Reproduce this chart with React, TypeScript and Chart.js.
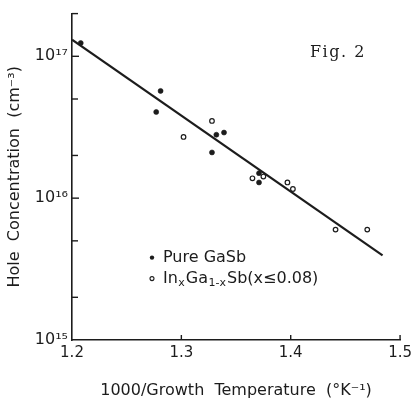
import React, { useEffect, useRef } from "react";
import { Chart, registerables } from "chart.js";

Chart.register(...registerables);

// ---- data ----
const pureX = [1.208, 1.281, 1.277, 1.332, 1.339, 1.328, 1.371, 1.371];
const pureY = [1.24e17, 5.7e16, 4.05e16, 2.8e16, 2.9e16, 2.1e16, 1.5e16, 1.29e16];

const inX = [1.302, 1.328, 1.365, 1.375, 1.397, 1.402, 1.441, 1.47];
const inY = [2.7e16, 3.5e16, 1.38e16, 1.42e16, 1.29e16, 1.16e16, 6.0e15, 6.0e15];

const fitX = [1.2, 1.484];
const fitY = [1.31e17, 3.95e15];

const xTickValues = [1.2, 1.3, 1.4, 1.5];
const xTickLabels = ["1.2", "1.3", "1.4", "1.5"];
const xInnerTicks = [1.3, 1.4, 1.5];

const yTickValues = [1e15, 1e16, 1e17];
const yTickLabels = ["10¹⁵", "10¹⁶", "10¹⁷"];
const yMinorValues = [2e15, 5e15, 2e16, 5e16, 2e17];

const seriesLabels = ["Pure GaSb", "InxGa1-xSb(x≤0.08)"];
// rich text of the second legend entry: [text, isSubscript]
const legendInParts: [string, boolean][] = [
  ["In", false],
  ["x", true],
  ["Ga", false],
  ["1-x", true],
  ["Sb(x≤0.08)", false],
];

const xTitle = "1000/Growth  Temperature  (°K⁻¹)";
const yTitle = "Hole  Concentration  (cm⁻³)";
const figLabel = "Fig. 2";

const INK = "#1c1c1c";
const FONT = "'DejaVu Sans', sans-serif";

const decorPlugin = {
  id: "decor",
  afterDraw(chart: any) {
    const ctx: CanvasRenderingContext2D = chart.ctx;
    const xs = chart.scales.x;
    const ys = chart.scales.y;
    const area = chart.chartArea;
    ctx.save();
    ctx.strokeStyle = INK;
    ctx.lineWidth = 1.4;
    const seg = (x1: number, y1: number, x2: number, y2: number) => {
      ctx.beginPath();
      ctx.moveTo(x1, y1);
      ctx.lineTo(x2, y2);
      ctx.stroke();
    };
    // inward ticks on y axis
    for (const v of yTickValues) {
      if (v <= ys.min) continue;
      const p = ys.getPixelForValue(v);
      seg(area.left, p, area.left + 7, p);
    }
    for (const v of yMinorValues) {
      const p = ys.getPixelForValue(v);
      seg(area.left, p, area.left + 6, p);
    }
    // inward ticks on x axis
    for (const v of xInnerTicks) {
      const p = xs.getPixelForValue(v);
      seg(p, area.bottom, p, area.bottom - 5);
    }

    // legend
    const lx = area.left + 80;
    const ty = area.top + 244;
    const ty2 = area.top + 265;
    const textX = area.left + 91;
    ctx.fillStyle = INK;
    ctx.beginPath();
    ctx.arc(lx, ty, 2.2, 0, Math.PI * 2);
    ctx.fill();
    ctx.beginPath();
    ctx.lineWidth = 1.1;
    ctx.arc(lx, ty2, 2.0, 0, Math.PI * 2);
    ctx.stroke();

    ctx.textBaseline = "middle";
    ctx.textAlign = "left";
    ctx.font = `16px ${FONT}`;
    ctx.fillText(seriesLabels[0], textX, ty);

    let cx = textX;
    for (const [t, sub] of legendInParts) {
      ctx.font = sub ? `11px ${FONT}` : `16px ${FONT}`;
      ctx.fillText(t, cx, sub ? ty2 + 5 : ty2);
      cx += ctx.measureText(t).width + (sub ? 1 : 0.5);
    }

    // figure label
    ctx.font = `16px 'DejaVu Serif', serif`;
    (ctx as any).letterSpacing = "1.5px";
    ctx.fillText(figLabel, area.left + 238, area.top + 39);
    ctx.restore();
  },
};

export default function App() {
  const ref = useRef<HTMLCanvasElement | null>(null);

  useEffect(() => {
    if (!ref.current) return;
    const chart = new Chart(ref.current, {
      type: "scatter",
      data: {
        datasets: [
          {
            label: "fit",
            data: fitX.map((x, i) => ({ x, y: fitY[i] })),
            showLine: true,
            borderColor: INK,
            borderWidth: 2.2,
            pointRadius: 0,
            order: 3,
          },
          {
            label: seriesLabels[0],
            data: pureX.map((x, i) => ({ x, y: pureY[i] })),
            pointRadius: 2.5,
            pointBackgroundColor: INK,
            pointBorderColor: INK,
            pointBorderWidth: 0.6,
            order: 1,
          },
          {
            label: seriesLabels[1],
            data: inX.map((x, i) => ({ x, y: inY[i] })),
            pointRadius: 2.3,
            pointBackgroundColor: "#ffffff",
            pointBorderColor: INK,
            pointBorderWidth: 1.2,
            order: 2,
          },
        ],
      },
      options: {
        responsive: false,
        animation: false,
        devicePixelRatio: 1,
        events: [],
        layout: { padding: { top: 13, right: 13, left: 0, bottom: 0 } },
        plugins: {
          legend: { display: false },
          tooltip: { enabled: false },
        },
        scales: {
          x: {
            type: "linear",
            min: 1.2,
            max: 1.5,
            afterBuildTicks: (s: any) => {
              s.ticks = xTickValues.map((v) => ({ value: v }));
            },
            afterFit: (s: any) => {
              s.height = 60;
            },
            grid: { display: true, drawOnChartArea: false, drawTicks: false },
            border: { display: true, color: INK, width: 1.6 },
            ticks: {
              padding: 4,
              color: INK,
              font: { family: FONT, size: 15 },
              maxRotation: 0,
              autoSkip: false,
              callback: (_v: any, i: number) => xTickLabels[i],
            },
            title: {
              display: true,
              text: xTitle,
              color: INK,
              font: { family: FONT, size: 16 },
              padding: { top: 0, bottom: 0 },
            },
          },
          y: {
            type: "logarithmic",
            min: 1e15,
            max: 2e17,
            afterBuildTicks: (s: any) => {
              s.ticks = yTickValues.map((v) => ({ value: v }));
            },
            afterFit: (s: any) => {
              s.width = 72;
            },
            grid: { display: true, drawOnChartArea: false, drawTicks: false },
            border: { display: true, color: INK, width: 1.6 },
            ticks: {
              padding: 4,
              color: INK,
              font: { family: FONT, size: 16 },
              autoSkip: false,
              callback: (v: any) => {
                const i = yTickValues.indexOf(Number(v));
                return i >= 0 ? yTickLabels[i] : "";
              },
            },
            title: {
              display: true,
              text: yTitle,
              color: INK,
              font: { family: FONT, size: 16 },
              padding: { top: 5, bottom: 0 },
            },
          },
        },
      },
      plugins: [decorPlugin],
    });
    return () => chart.destroy();
  }, []);

  return (
    <div
      style={{
        position: "fixed",
        left: 0,
        top: 0,
        width: 416,
        height: 400,
        background: "#ffffff",
      }}
    >
      <canvas ref={ref} width={416} height={400} />
    </div>
  );
}
